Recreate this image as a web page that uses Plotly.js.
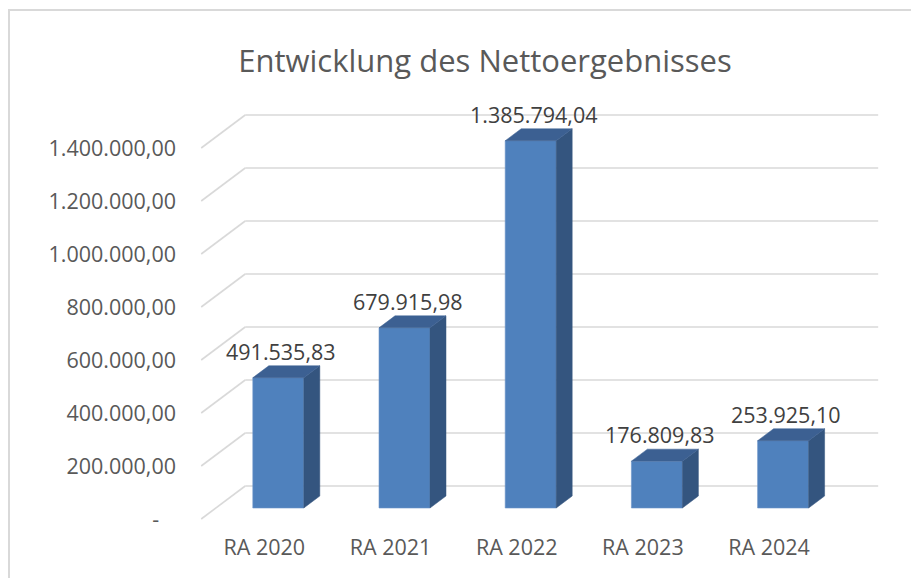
<!DOCTYPE html>
<html>
<head>
<meta charset="utf-8">
<script src="https://cdn.plot.ly/plotly-3.0.1.min.js"></script>
<style>
  html, body { margin: 0; padding: 0; background: #ffffff; overflow: hidden; }
  #frame { position: absolute; left: 8px; top: 9px; width: 1000px; height: 1000px;
           border-left: 2px solid #d9d9d9; border-top: 2px solid #d9d9d9; }
  #chart { position: absolute; left: 0; top: 0; width: 911px; height: 578px; }
</style>
</head>
<body>
<div id="frame"></div>
<div id="chart"></div>
<script>
// ---- data ----
const categories = ["RA 2020", "RA 2021", "RA 2022", "RA 2023", "RA 2024"];
const values = [491535.83, 679915.98, 1385794.04, 176809.83, 253925.10];
const tickValues = [0, 200000, 400000, 600000, 800000, 1000000, 1200000, 1400000];
const chartTitle = "Entwicklung des Nettoergebnisses";

// ---- helpers ----
function fmtDE(v) {
  const parts = v.toFixed(2).split(".");
  return parts[0].replace(/\B(?=(\d{3})+(?!\d))/g, ".") + "," + parts[1];
}
const tickText = tickValues.map(v => v === 0 ? "-\u00a0\u00a0\u00a0" : fmtDE(v));

// ---- layout geometry (pixels) ----
const W = 911, H = 578;
const catPx = 126.2;          // pixel distance between categories
const cat0Px = 278.3;         // pixel x of first category centre (front plane)
const zeroPx = 508;           // pixel y of value 0 (front plane of bars)
const pxPerUnit = 53 / 200000;
const plotL = 195, plotR = 885, plotT = 100, plotB = 525;

const dx = px => px / catPx;        // pixels -> x data units
const dy = px => px / pxPerUnit;    // pixels -> y data units

const xRange = [(plotL - cat0Px) / catPx, (plotR - cat0Px) / catPx];
const yRange = [-(plotB - zeroPx) / pxPerUnit, (zeroPx - plotT) / pxPerUnit];

const barW = 51 / catPx;
const depthX = dx(16), depthY = dy(12);

const xs = categories.map((c, i) => i);

// ---- traces ----
const traces = [];
traces.push({
  type: "bar", x: xs, y: values, width: barW,
  marker: { color: "#4f81bd", line: { color: "#6b95c9", width: 0.6 } },
  hoverinfo: "skip", showlegend: false
});
values.forEach((v, i) => {
  const xl = i - barW / 2, xr = i + barW / 2;
  traces.push({
    type: "scatter", mode: "lines", fill: "toself", fillcolor: "#34557f",
    line: { color: "#34557f", width: 0.5 },
    x: [xr, xr + depthX, xr + depthX, xr, xr],
    y: [0, depthY, v + depthY, v, 0],
    hoverinfo: "skip", showlegend: false
  });
  traces.push({
    type: "scatter", mode: "lines", fill: "toself", fillcolor: "#3c6092",
    line: { color: "#3c6092", width: 0.5 },
    x: [xl, xl + depthX, xr + depthX, xr, xl],
    y: [v, v + depthY, v + depthY, v, v],
    hoverinfo: "skip", showlegend: false
  });
});

// ---- gridlines (back wall + left wall) ----
const shapes = [];
const backL = -0.5 + dx(30), backR = 4.5 + dx(32);
const frontL = -0.5 - dx(14);
tickValues.forEach(v => {
  shapes.push({ type: "line", xref: "x", yref: "y", layer: "below",
    x0: backL, x1: backR, y0: v + dy(22), y1: v + dy(22),
    line: { color: "#d9d9d9", width: 1.6 } });
  shapes.push({ type: "line", xref: "x", yref: "y", layer: "below",
    x0: frontL, x1: backL, y0: v - dy(11), y1: v + dy(22),
    line: { color: "#d9d9d9", width: 1.6 } });
});

// ---- value labels ----
const annotations = values.map((v, i) => ({
  x: i + dx(3), y: v + depthY, xref: "x", yref: "y",
  text: fmtDE(v), showarrow: false, yanchor: "bottom", xanchor: "center", yshift: -2,
  font: { family: "Open Sans", size: 21.5, color: "#404040" }
}));

const layout = {
  width: W, height: H,
  margin: { l: plotL, r: W - plotR, t: plotT, b: H - plotB, pad: 0 },
  paper_bgcolor: "rgba(0,0,0,0)", plot_bgcolor: "rgba(0,0,0,0)",
  showlegend: false,
  title: {
    text: chartTitle, xref: "container", yref: "container",
    x: 485 / W, y: 1 - 61 / H, xanchor: "center", yanchor: "middle",
    font: { family: "Open Sans", size: 31, color: "#595959" }
  },
  xaxis: {
    range: xRange, tickmode: "array", tickvals: xs, ticktext: categories,
    showgrid: false, zeroline: false, showline: false, ticks: "",
    ticklabelshift: -14, ticklabelstandoff: 7,
    tickfont: { family: "Open Sans", size: 21.5, color: "#595959" },
    fixedrange: true
  },
  yaxis: {
    range: yRange, tickmode: "array", tickvals: tickValues, ticktext: tickText,
    showgrid: false, zeroline: false, showline: false, ticks: "",
    ticklabelshift: 11, ticklabelstandoff: 18,
    tickfont: { family: "Open Sans", size: 21.5, color: "#595959" },
    fixedrange: true
  },
  shapes: shapes,
  annotations: annotations,
  bargap: 0
};

Plotly.newPlot("chart", traces, layout, { displayModeBar: false, staticPlot: true });
</script>
</body>
</html>
